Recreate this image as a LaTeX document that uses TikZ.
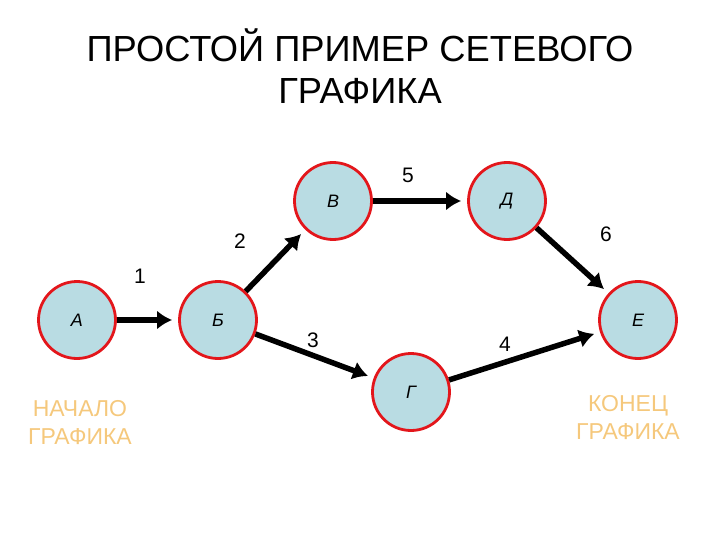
\documentclass[tikz,border=0pt]{standalone}
\usepackage{fontspec}
\setmainfont{Liberation Sans}
\usetikzlibrary{arrows.meta}
\definecolor{evfill}{HTML}{B9DCE3}
\definecolor{evline}{HTML}{E3161B}
\definecolor{endtext}{HTML}{F5C87C}
\begin{document}
\begin{tikzpicture}[x=1pt,y=-1pt,
  event/.style={circle,draw=evline,line width=2.8pt,fill=evfill,minimum size=77pt,inner sep=0pt,
    font=\itshape\fontsize{18}{18}\selectfont},
  job/.style={line width=5.5pt,-{Latex[length=15pt,width=19pt]},shorten >=6pt},
  jobnum/.style={font=\fontsize{21}{21}\selectfont},
  endlabel/.style={text=endtext,align=center,font=\fontsize{23}{28}\selectfont}]
\useasboundingbox (0,0) rectangle (720,540);

\node[align=center,font=\fontsize{36.3}{42}\selectfont] (title) at (360,66)
  {ПРОСТОЙ ПРИМЕР СЕТЕВОГО\\ГРАФИКА};

\node[event] (A) at (77,320) {А};
\node[event] (B) at (218,320) {Б};
\node[event] (V) at (333,201) {В};
\node[event] (D) at (507,201) {Д};
\node[event] (G) at (411,392) {Г};
\node[event] (E) at (638,320) {Е};

\draw[job] (A) -- (B);
\draw[job] (B) -- (V);
\draw[job] (V) -- (D);
\draw[job] (D) -- (E);
\draw[job] (B) -- (G);
\draw[job] (G) -- (E);

\node[jobnum] (n1) at (140,276) {1};
\node[jobnum] (n2) at (240,241) {2};
\node[jobnum] (n3) at (313,340) {3};
\node[jobnum] (n4) at (505,344) {4};
\node[jobnum] (n5) at (408,175) {5};
\node[jobnum] (n6) at (606,234) {6};

\node[endlabel] (start) at (80,423) {НАЧАЛО\\ГРАФИКА};
\node[endlabel] (finish) at (628,418) {КОНЕЦ\\ГРАФИКА};
\end{tikzpicture}
\end{document}
